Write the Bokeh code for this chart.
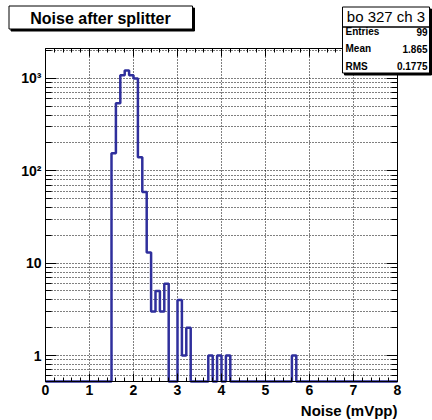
import math
from bokeh.plotting import figure
from bokeh.models import (FixedTicker, LinearAxis, LogAxis, Grid,
                          BoxAnnotation, Label, Range1d)
from bokeh.embed import file_html
from bokeh.resources import INLINE

# ---------------- data ----------------
bin_width = 0.1
x_start, x_end = 0.0, 8.0
y_start, y_end = 0.523, 2109.0

# lower edges of the non-empty bins and their contents
bin_lows = [1.5, 1.6, 1.7, 1.8, 1.9, 2.0, 2.1, 2.2, 2.3, 2.4, 2.5, 2.6, 2.7,
            3.0, 3.1, 3.2, 3.7, 3.9, 4.1, 5.6]
bin_counts = [155, 540, 1080, 1220, 1080, 1000, 140, 59, 13, 3, 5, 3, 6,
              4, 1, 2, 1, 1, 1, 1]

x_ticks = [0, 1, 2, 3, 4, 5, 6, 7, 8]
y_ticks = [1, 10, 100, 1000]
y_tick_labels = ["1", "10", "10\u00b2", "10\u00b3"]

title_text = "Noise after splitter"
x_title = "Noise (mVpp)"
stats_title = "bo 327 ch 3"
stats_names = ["Entries", "Mean", "RMS"]
stats_values = ["99", "1.865", "0.1775"]

# ---------------- histogram arrays ----------------
n_bins = int(round((x_end - x_start) / bin_width))
counts = [0.0] * n_bins
for lo, c in zip(bin_lows, bin_counts):
    counts[int(round((lo - x_start) / bin_width))] = c
edges = [x_start + i * bin_width for i in range(n_bins + 1)]
draw_vals = [max(c, y_start) for c in counts]
draw_vals = draw_vals + [draw_vals[-1]]

# ---------------- layout (canvas pixels) ----------------
W, H = 432, 420
FL, FR, FT, FB = 45, 397, 48, 381   # histogram frame on the canvas

px_per_x = (FR - FL) / (x_end - x_start)
ly0, ly1 = math.log10(y_start), math.log10(y_end)
px_per_dec = (FB - FT) / (ly1 - ly0)
x_range = Range1d(x_start - FL / px_per_x, x_end + (W - FR) / px_per_x)
y_range = Range1d(10 ** (ly0 - (H - FB) / px_per_dec), 10 ** (ly1 + FT / px_per_dec))

FONT = "Liberation Sans"
HCOL = "#2f2f9c"

p = figure(width=W, height=H, x_range=x_range, y_range=y_range,
           y_axis_type="log", x_axis_location=None, y_axis_location=None,
           output_backend="svg", toolbar_location=None, min_border=0)
p.background_fill_color = "white"
p.border_fill_color = "white"
p.outline_line_color = None
p.center = [r for r in p.center if not isinstance(r, Grid)]

# ticks
x_minor = [x_start + i * 0.2 for i in range(41)]
y_minor = [m * 10.0 ** k for k in range(-1, 4) for m in range(2, 10)
           if y_start <= m * 10.0 ** k <= y_end]
xticker = FixedTicker(ticks=x_ticks, minor_ticks=x_minor)
yticker = FixedTicker(ticks=y_ticks, minor_ticks=y_minor)

# grids (limited to the histogram frame)
p.add_layout(Grid(dimension=0, ticker=xticker, bounds=(x_start, x_end),
                  cross_bounds=(y_start, y_end),
                  grid_line_color="black", grid_line_dash="1 2"))
p.add_layout(Grid(dimension=1, ticker=yticker, bounds=(y_start, y_end),
                  cross_bounds=(x_start, x_end),
                  grid_line_color="black", grid_line_dash="1 2",
                  minor_grid_line_color="black", minor_grid_line_dash="1 2"))

common = dict(axis_line_color="black", major_tick_line_color="black",
              minor_tick_line_color="black", major_tick_out=0, minor_tick_out=0,
              major_label_text_font=FONT, major_label_text_font_style="bold",
              major_label_text_font_size="14px", major_label_text_color="black")
nolab = dict(common, major_label_text_font_size="0px", major_label_text_color=None)

bottom_ax = LinearAxis(ticker=xticker, fixed_location=y_start, bounds=(x_start, x_end),
                       major_tick_in=8, minor_tick_in=4, major_label_standoff=3, **common)
top_ax = LinearAxis(ticker=xticker, fixed_location=y_end, bounds=(x_start, x_end),
                    major_tick_in=8, minor_tick_in=4, **nolab)
left_ax = LogAxis(ticker=yticker, fixed_location=x_start, bounds=(y_start, y_end),
                  major_tick_in=11, minor_tick_in=6, major_label_standoff=4,
                  major_label_overrides={v: s for v, s in zip(y_ticks, y_tick_labels)},
                  **common)
right_ax = LogAxis(ticker=yticker, fixed_location=x_end, bounds=(y_start, y_end),
                   major_tick_in=11, minor_tick_in=6, **nolab)
p.add_layout(bottom_ax, "below")
p.add_layout(top_ax, "above")
p.add_layout(left_ax, "left")
p.add_layout(right_ax, "right")

# histogram outline
p.step(edges, draw_vals, mode="after", line_color=HCOL, line_width=2.5)


# ---------------- panes (screen coords, y measured from canvas bottom) ----------------
def box(l, r, t, b, color):
    p.add_layout(BoxAnnotation(left=l, right=r, top=H - t, bottom=H - b,
                               left_units="screen", right_units="screen",
                               top_units="screen", bottom_units="screen",
                               fill_color=color, fill_alpha=1,
                               line_color="black", line_alpha=1, line_width=1))


def pane(l, r, t, b, shadow=2):
    box(l + shadow, r + shadow, t + shadow, b + shadow, "black")
    box(l, r, t, b, "white")


def text(x, y, s, size, align, bold=True):
    p.add_layout(Label(x=x, y=H - y, x_units="screen", y_units="screen",
                       text=s, text_font=FONT,
                       text_font_style="bold" if bold else "normal",
                       text_font_size=size, text_align=align,
                       text_baseline="middle", text_color="black"))


# title pane
pane(8.5, 192, 5.5, 28.5)
text(100, 17.5, title_text, "16px", "center")

# stats pane
pane(342, 429, 6.5, 72.5)
box(342, 429, 26.5, 26.5, "black")
text(385.5, 16, stats_title, "15px", "center", bold=False)
row_y = [31, 48, 65.5]
for name, val, ry in zip(stats_names, stats_values, row_y):
    text(345, ry, name, "10px", "left")
    text(427, ry, val, "10px", "right")

# x-axis title (right aligned, ROOT style)
text(397, 409.5, x_title, "15px", "right")

open("out.html", "w").write(file_html(p, INLINE))
